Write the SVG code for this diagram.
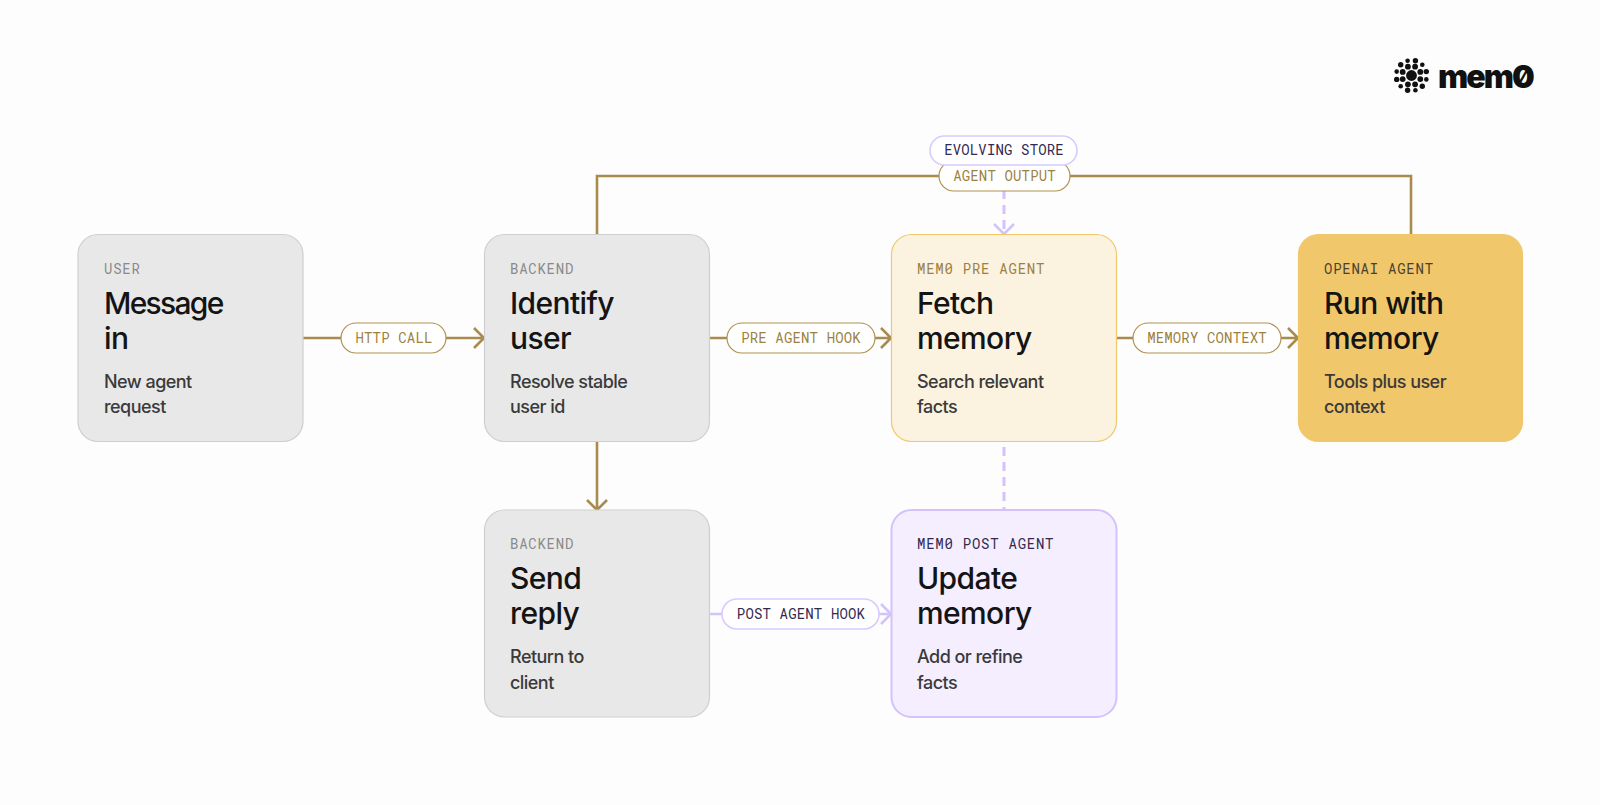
<svg xmlns="http://www.w3.org/2000/svg" width="1600" height="805" viewBox="0 0 1600 805">
<style>
.card{stroke-width:1.2}
.gray{fill:#e8e8e8;stroke:#cfcfcf}
.cream{fill:#fbf3e0;stroke:#f0c76a}
.gold{fill:#f1c76b;stroke:#f1c76b}
.lav{fill:#f4eeff;stroke:#d4c2fb;stroke-width:2}
.k{font:400 14px "Roboto Mono","Liberation Mono",monospace;letter-spacing:.15px}
.n{letter-spacing:.75px}
.t{font:500 30px "Inter","Noto Sans",sans-serif;fill:#141414;letter-spacing:-.6px}
.d{font:500 18px "Inter","Noto Sans",sans-serif;fill:#3a3a3a;letter-spacing:-.54px}
.c{fill:none;stroke:#a98b4e;stroke-width:2.6}
.p{fill:none;stroke:#d4c2fb;stroke-width:2.6}
.dash{stroke-dasharray:9 6;stroke-width:3}
.pg{fill:#fff;stroke:#b0924f;stroke-width:1.2}
.pp{fill:#fff;stroke:#d9caff;stroke-width:1.6}
.lg{fill:#9c8142}.lp{fill:#33294f}.lk{fill:#8a8a8a}.lb{fill:#4a4030}
text.m{text-anchor:middle}
</style>
<rect width="1600" height="805" fill="#fdfdfd"/>
<g id="logo" fill="#111">
<circle cx="1411.500" cy="75.500" r="5.400"/>
<g id="ring-inner"><circle cx="1420.300" cy="79.100" r="2.900"/><circle cx="1415.100" cy="84.300" r="2.900"/><circle cx="1407.900" cy="84.300" r="2.900"/><circle cx="1402.700" cy="79.100" r="2.900"/><circle cx="1402.700" cy="71.900" r="2.900"/><circle cx="1407.900" cy="66.700" r="2.900"/><circle cx="1415.100" cy="66.700" r="2.900"/><circle cx="1420.300" cy="71.900" r="2.900"/></g>
<g id="ring-outer"><circle cx="1426.300" cy="79.400" r="2.300"/><circle cx="1422.300" cy="86.300" r="2.700"/><circle cx="1415.400" cy="90.300" r="2.300"/><circle cx="1407.600" cy="90.300" r="2.700"/><circle cx="1400.700" cy="86.300" r="2.300"/><circle cx="1396.700" cy="79.400" r="2.700"/><circle cx="1396.700" cy="71.600" r="2.300"/><circle cx="1400.700" cy="64.700" r="2.700"/><circle cx="1407.600" cy="60.700" r="2.300"/><circle cx="1415.400" cy="60.700" r="2.700"/><circle cx="1422.300" cy="64.700" r="2.300"/><circle cx="1426.300" cy="71.600" r="2.700"/></g>
<text x="1438" y="88" style="font:900 32px Inter,'Noto Sans',sans-serif;letter-spacing:-1.9px;font-feature-settings:'zero'">mem0</text>
</g>
<g id="connectors">
<path class="c" d="M303 338H484M474 328l10 10-10 10"/>
<path class="c" d="M710 338H891M881 328l10 10-10 10"/>
<path class="c" d="M1117 338H1298M1288 328l10 10-10 10"/>
<path class="c" d="M597 441V510M587 500l10 10 10-10"/>
<path class="c" d="M597 234V176H1411V234"/>
<path class="p dash" d="M1004 190V233"/>
<path class="p" d="M994 224l10 10 10-10"/>
<path class="p dash" d="M1004 447V510"/>
<path class="p" d="M710 614H891M881 604l10 10-10 10"/>
</g>
<g id="pill-http"><rect class="pg" x="341" y="323" width="105" height="30" rx="15"/><text class="k m lg" x="394" y="342.500">HTTP CALL</text></g>
<g id="pill-pre"><rect class="pg" x="727" y="323" width="148" height="30" rx="15"/><text class="k m lg" x="801" y="342.500">PRE AGENT HOOK</text></g>
<g id="pill-memory"><rect class="pg" x="1133" y="323" width="148" height="30" rx="15"/><text class="k m lg" x="1207" y="342.500">MEMORY CONTEXT</text></g>
<g id="pill-post"><rect class="pp" x="722" y="599" width="157" height="30" rx="15"/><text class="k m lp" x="801" y="618.500">POST AGENT HOOK</text></g>
<g id="pill-output"><rect class="pg" x="939" y="161" width="131" height="30" rx="15"/><text class="k m lg" x="1004.500" y="180.500">AGENT OUTPUT</text></g>
<g id="pill-store"><rect class="pp" x="930" y="136" width="147" height="29" rx="14.500"/><text class="k m lp" x="1004" y="155">EVOLVING STORE</text></g>
<g id="node-user"><rect class="card gray" x="78" y="234.500" width="225" height="207" rx="20"/><text class="k n lk" x="104" y="274">USER</text><text class="t" x="104" y="314" style="letter-spacing:-1.7px">Message</text><text class="t" x="104" y="349">in</text><text class="d" x="104" y="388">New agent</text><text class="d" x="104" y="413">request</text></g>
<g id="node-identify"><rect class="card gray" x="484.500" y="234.500" width="225" height="207" rx="20"/><text class="k n lk" x="510" y="274">BACKEND</text><text class="t" x="510" y="314">Identify</text><text class="t" x="510" y="349">user</text><text class="d" x="510" y="388">Resolve stable</text><text class="d" x="510" y="413">user id</text></g>
<g id="node-fetch"><rect class="card cream" x="891.500" y="234.500" width="225" height="207" rx="20"/><text class="k n lg" x="917" y="274">MEM0 PRE AGENT</text><text class="t" x="917" y="314">Fetch</text><text class="t" x="917" y="349">memory</text><text class="d" x="917" y="388">Search relevant</text><text class="d" x="917" y="413">facts</text></g>
<g id="node-run"><rect class="card gold" x="1298.500" y="234.500" width="224" height="207" rx="20"/><text class="k n lb" x="1324" y="274">OPENAI AGENT</text><text class="t" x="1324" y="314">Run with</text><text class="t" x="1324" y="349">memory</text><text class="d" x="1324" y="388">Tools plus user</text><text class="d" x="1324" y="413">context</text></g>
<g id="node-send"><rect class="card gray" x="484.500" y="510" width="225" height="207" rx="20"/><text class="k n lk" x="510" y="549">BACKEND</text><text class="t" x="510" y="589">Send</text><text class="t" x="510" y="624">reply</text><text class="d" x="510" y="663">Return to</text><text class="d" x="510" y="689">client</text></g>
<g id="node-update"><rect class="card lav" x="891.500" y="510" width="225" height="207" rx="20"/><text class="k n lp" x="917" y="549">MEM0 POST AGENT</text><text class="t" x="917" y="589">Update</text><text class="t" x="917" y="624">memory</text><text class="d" x="917" y="663">Add or refine</text><text class="d" x="917" y="689">facts</text></g>
</svg>
